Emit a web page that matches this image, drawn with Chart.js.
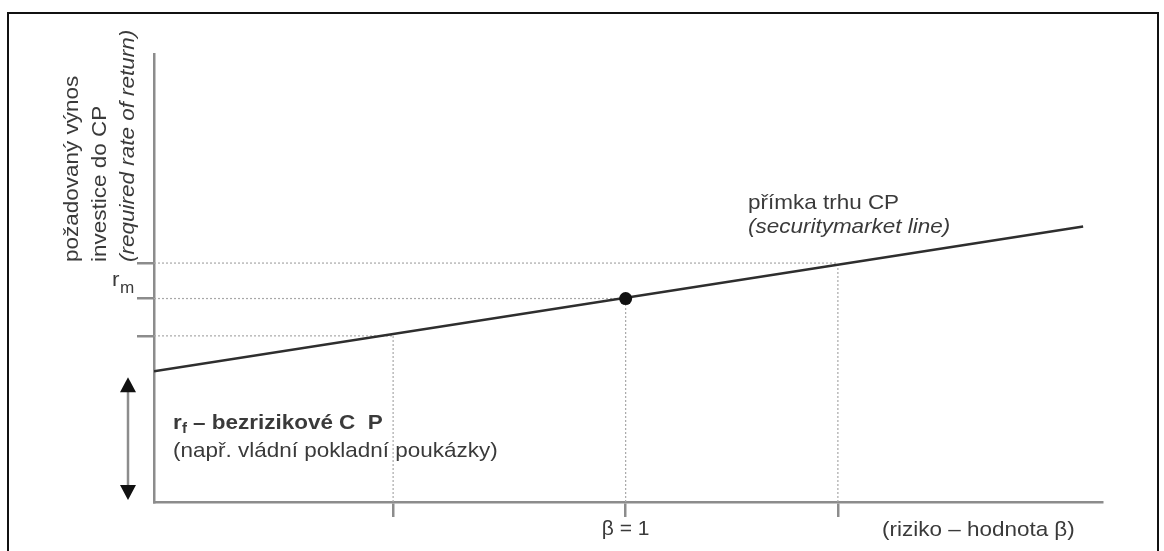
<!DOCTYPE html>
<html>
<head>
<meta charset="utf-8">
<script src="https://cdn.jsdelivr.net/npm/chart.js@4/dist/chart.umd.min.js"></script>
<style>
  html, body { margin: 0; padding: 0; background: #fff; }
  #frame { position: absolute; left: 7px; top: 12px; width: 1152px; height: 560px; border: 2px solid #111; box-sizing: border-box; }
  #c { position: absolute; left: 0; top: 0; }
</style>
</head>
<body>
<div id="frame"></div>
<canvas id="c" width="1164" height="551"></canvas>
<script>
// ---- data ----
const betaTicks = [0.507, 1, 1.45];
const betaTickLabels = ['', 'β = 1', ''];
const returnTicks = [4.45, 5.45, 6.4];
const smlBeta = [0, 1.97];
const smlReturn = [3.5, 7.38];
const marketBeta = [1];
const marketReturn = [5.45];
const riskFree = 3.5;
const xRange = [0, 2.01];
const yRange = [0, 12];

const AXIS = '#8c8c8c';
const GUIDE = '#a8a8a8';
const TEXT = '#3a3a3a';
const FONT = '"Liberation Sans", Arial, sans-serif';
const SX = 1.07;

const smlData = smlBeta.map((b, i) => ({ x: b, y: smlReturn[i] }));
const dotData = marketBeta.map((b, i) => ({ x: b, y: marketReturn[i] }));
const guideSets = [];
betaTicks.forEach((b, i) => {
  guideSets.push({ data: [{ x: 0, y: returnTicks[i] }, { x: b, y: returnTicks[i] }] });
  guideSets.push({ data: [{ x: b, y: 0 }, { x: b, y: returnTicks[i] }] });
});

function txt(ctx, t, x, y, font, rot) {
  ctx.save();
  ctx.translate(x, y);
  if (rot) ctx.rotate(rot);
  ctx.scale(SX, 1);
  ctx.font = font;
  ctx.textAlign = 'left';
  ctx.textBaseline = 'middle';
  ctx.fillText(t, 0, 0);
  ctx.restore();
}

const annotations = {
  id: 'annotations',
  afterDraw(chart) {
    const ctx = chart.ctx;
    const xs = chart.scales.x, ys = chart.scales.y;
    ctx.save();
    ctx.fillStyle = TEXT;
    // rotated y title
    const titleLines = [
      ['požadovaný výnos', 'normal', 72],
      ['investice do CP', 'normal', 100],
      ['(required rate of return)', 'italic', 128]
    ];
    titleLines.forEach(([t, st, x]) => txt(ctx, t, x, 262, st + ' 21px ' + FONT, -Math.PI / 2));
    // r_m label
    txt(ctx, 'r', 112, 280, '21px ' + FONT);
    txt(ctx, 'm', 120, 289, '16px ' + FONT);
    // double arrow for r_f
    const ax = xs.left - 26;
    const yTop = ys.getPixelForValue(riskFree) + 6;
    const yBot = ys.getPixelForValue(0) - 2;
    ctx.strokeStyle = AXIS;
    ctx.lineWidth = 2.5;
    ctx.beginPath();
    ctx.moveTo(ax, yTop + 12);
    ctx.lineTo(ax, yBot - 12);
    ctx.stroke();
    ctx.fillStyle = '#111';
    ctx.beginPath();
    ctx.moveTo(ax, yTop); ctx.lineTo(ax - 8, yTop + 15); ctx.lineTo(ax + 8, yTop + 15); ctx.closePath(); ctx.fill();
    ctx.beginPath();
    ctx.moveTo(ax, yBot); ctx.lineTo(ax - 8, yBot - 15); ctx.lineTo(ax + 8, yBot - 15); ctx.closePath(); ctx.fill();
    // r_f text
    ctx.fillStyle = TEXT;
    txt(ctx, 'r', 173, 423, 'bold 21px ' + FONT);
    txt(ctx, 'f', 182, 429, 'bold 14px ' + FONT);
    txt(ctx, '– bezrizikové C  P', 193, 423, 'bold 21px ' + FONT);
    txt(ctx, '(např. vládní pokladní poukázky)', 173, 451, '21px ' + FONT);
    // SML label
    txt(ctx, 'přímka trhu CP', 748, 203, '21px ' + FONT);
    txt(ctx, '(securitymarket line)', 748, 227, 'italic 21px ' + FONT);
    // x axis title
    txt(ctx, '(riziko – hodnota β)', 882, 530, '21px ' + FONT);
    ctx.restore();
  }
};

new Chart(document.getElementById('c'), {
  type: 'scatter',
  data: {
    datasets: [
      ...guideSets.map(g => ({
        data: g.data, showLine: true, borderColor: GUIDE, borderWidth: 1.2,
        borderDash: [2, 2], pointRadius: 0, fill: false, order: 2
      })),
      { data: smlData, showLine: true, borderColor: '#2e2e2e', borderWidth: 2.5, pointRadius: 0, order: 1 },
      { data: dotData, pointRadius: 6.5, pointBorderWidth: 0, pointBackgroundColor: '#111', pointBorderColor: '#111', order: 0 }
    ]
  },
  options: {
    responsive: false,
    animation: false,
    devicePixelRatio: 1,
    layout: { padding: { left: 134, right: 62, top: 54, bottom: 9 } },
    plugins: { legend: { display: false }, tooltip: { enabled: false } },
    scales: {
      x: {
        type: 'linear', min: xRange[0], max: xRange[1],
        afterBuildTicks: s => { s.ticks = betaTicks.map(v => ({ value: v })); },
        afterFit: s => { s.height = 40; },
        ticks: {
          callback: (v, i) => betaTickLabels[i],
          color: TEXT, font: { family: FONT, size: 21 }, padding: 0, maxRotation: 0, autoSkip: false
        },
        grid: { drawOnChartArea: false, drawTicks: true, tickLength: 15, color: AXIS, tickColor: AXIS, tickWidth: 2.5, lineWidth: 2.5 },
        border: { display: true, color: AXIS, width: 2.5 }
      },
      y: {
        type: 'linear', min: yRange[0], max: yRange[1],
        afterBuildTicks: s => { s.ticks = returnTicks.map(v => ({ value: v })); },
        afterFit: s => { s.width = 20; },
        ticks: { callback: () => '', padding: 0 },
        grid: { drawOnChartArea: false, drawTicks: true, tickLength: 17, color: AXIS, tickColor: AXIS, tickWidth: 2.5, lineWidth: 2.5 },
        border: { display: true, color: AXIS, width: 2.5 }
      }
    }
  },
  plugins: [annotations]
});
</script>
</body>
</html>
